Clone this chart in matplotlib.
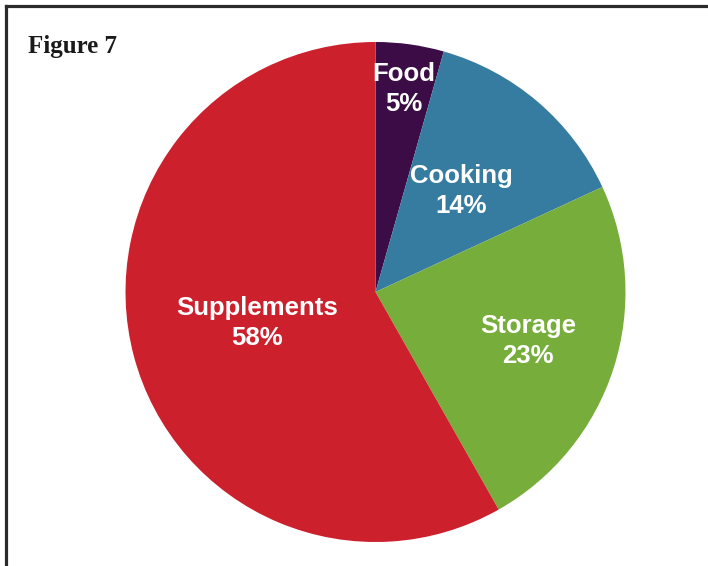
import numpy as np
import matplotlib.pyplot as plt
from matplotlib.lines import Line2D

# Wedge sizes (angles), and the printed labels
categories = ['Food', 'Cooking', 'Storage', 'Supplements']
shares = [4.4, 13.7, 23.7, 58.2]
pct_labels = ['5%', '14%', '23%', '58%']
colors = ['#3b0c45', '#367ca1', '#77ad3b', '#cc202d']

W, H = 708, 566
fig = plt.figure(figsize=(W / 100, H / 100), dpi=100)
fig.patch.set_facecolor('white')

# pie axes: centre (375.5, 292) px, radius 250 px
ax = fig.add_axes([125.5 / W, (H - 542) / H, 500 / W, 500 / H])
wedges, _ = ax.pie(shares, colors=colors, startangle=90, counterclock=False,
                   radius=1.0, wedgeprops=dict(linewidth=0))
ax.set_xlim(-1, 1)
ax.set_ylim(-1, 1)
ax.set_aspect('equal')
ax.axis('off')

# labels inside each wedge, at wedge mid angle
label_dist = [0.82, 0.53, 0.64, 0.49]
for w, name, pct, d in zip(wedges, categories, pct_labels, label_dist):
    mid = np.deg2rad((w.theta1 + w.theta2) / 2)
    ax.text(d * np.cos(mid), d * np.sin(mid), f"{name}\n{pct}",
            ha='center', va='center', multialignment='center',
            color='white', fontsize=18.5, fontweight='bold',
            family='Liberation Sans', linespacing=1.32)

# title
fig.text(28 / W, 1 - 46 / H, 'Figure 7', ha='left', va='center',
         fontsize=18, fontweight='bold', family='Liberation Serif', color='#1a1a1a')

# frame: top and left lines only
fig.add_artist(Line2D([5.5 / W, 1], [1 - 5.5 / H, 1 - 5.5 / H], color='#2b2b2b',
                      linewidth=2.3, solid_capstyle='projecting'))
fig.add_artist(Line2D([5.5 / W, 5.5 / W], [0, 1 - 5.5 / H], color='#2b2b2b',
                      linewidth=2.3, solid_capstyle='projecting'))

fig.savefig('out.png', dpi=100)
